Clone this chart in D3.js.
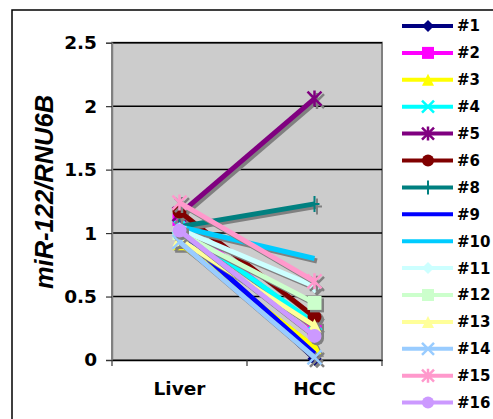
<!DOCTYPE html>
<html>
<head>
<meta charset="utf-8">
<script src="https://cdn.jsdelivr.net/npm/d3@7"></script>
<style>
  body { margin: 0; background: #fff; }
  svg { display: block; }
</style>
</head>
<body>
<div id="chart"></div>
<script>
'use strict';

var categories = ['Liver', 'HCC'];
var seriesNames = ['#1', '#2', '#3', '#4', '#5', '#6', '#8', '#9', '#10', '#11', '#12', '#13', '#14', '#15', '#16'];
var liverValues = [1.00, 1.10, 0.92, 1.05, 1.15, 1.17, 1.05, 1.00, 1.05, 1.03, 1.00, 0.95, 0.93, 1.24, 1.02];
var hccValues   = [0.01, 0.25, 0.10, 0.29, 2.06, 0.34, 1.23, 0.05, 0.80, 0.58, 0.45, 0.27, 0.02, 0.62, 0.19];
var seriesColors = ['#000080', '#ff00ff', '#ffff00', '#00ffff', '#800080', '#800000', '#008080',
                    '#0000ff', '#00ccff', '#ccffff', '#ccffcc', '#ffff99', '#99ccff', '#ff99cc', '#cc99ff'];
var seriesMarkers = ['diamond', 'square', 'triangle', 'x', 'star', 'circle', 'plus',
                     'none', 'none', 'diamond', 'square', 'triangle', 'x', 'star', 'circle'];
var yTicks = [0, 0.5, 1, 1.5, 2, 2.5];

var width = 493, height = 419;
var plot = { left: 112, right: 382, top: 42.7, bottom: 360 };

var svg = d3.select('#chart').append('svg')
    .attr('width', width)
    .attr('height', height);

// outer chart frame (cut off at right/bottom)
svg.append('path')
    .attr('d', 'M12,' + (height + 5) + 'L12,10L' + (width + 5) + ',10')
    .attr('fill', 'none')
    .attr('stroke', '#000')
    .attr('stroke-width', 1.5);

var x = d3.scaleBand().domain(categories).range([plot.left, plot.right]);
var y = d3.scaleLinear().domain([0, 2.5]).range([plot.bottom, plot.top]);

// plot area
svg.append('rect')
    .attr('x', plot.left)
    .attr('y', plot.top)
    .attr('width', plot.right - plot.left)
    .attr('height', plot.bottom - plot.top)
    .attr('fill', '#cccccc')
    .attr('stroke', '#808080')
    .attr('stroke-width', 2);

// gridlines
svg.selectAll('line.grid')
    .data(yTicks.filter(function (d) { return d > 0; }))
    .enter().append('line')
    .attr('class', 'grid')
    .attr('x1', plot.left).attr('x2', plot.right)
    .attr('y1', function (d) { return y(d); })
    .attr('y2', function (d) { return y(d); })
    .attr('stroke', '#000')
    .attr('stroke-width', 1.5);

// y axis
var yAxis = d3.axisLeft(y).tickValues(yTicks).tickSize(6).tickPadding(9)
    .tickFormat(function (d) { return String(d); });
var gy = svg.append('g')
    .attr('transform', 'translate(' + plot.left + ',0)')
    .call(yAxis);
gy.select('.domain').attr('stroke', '#808080').attr('stroke-width', 1.5);
gy.selectAll('.tick line').attr('stroke', '#333').attr('stroke-width', 1.2);
gy.selectAll('text')
    .attr('fill', '#000')
    .style('font-family', 'DejaVu Sans, Verdana, sans-serif')
    .style('font-weight', 'bold')
    .style('font-size', '18.5px');

// x axis
var xAxis = d3.axisBottom(x).tickSize(0).tickPadding(22);
var gx = svg.append('g')
    .attr('transform', 'translate(0,' + plot.bottom + ')')
    .call(xAxis);
gx.select('.domain').attr('stroke', '#000').attr('stroke-width', 1.5);
gx.selectAll('text')
    .attr('fill', '#000')
    .style('font-family', 'DejaVu Sans, Verdana, sans-serif')
    .style('font-weight', 'bold')
    .style('font-size', '18.5px');

// x tick marks at category boundaries
svg.selectAll('line.xtick')
    .data([plot.left, (plot.left + plot.right) / 2, plot.right])
    .enter().append('line')
    .attr('class', 'xtick')
    .attr('x1', function (d) { return d; })
    .attr('x2', function (d) { return d; })
    .attr('y1', plot.bottom)
    .attr('y2', plot.bottom + 6)
    .attr('stroke', '#333')
    .attr('stroke-width', 1.2);

// y axis title
svg.append('text')
    .attr('transform', 'translate(53,192) rotate(-90)')
    .attr('text-anchor', 'middle')
    .style('font-family', 'Liberation Sans, Arial, sans-serif')
    .style('font-weight', 'bold')
    .style('font-style', 'italic')
    .style('font-size', '25.5px')
    .text('miR-122/RNU6B');

// marker drawing
function drawMarker(g, type, color, size) {
  var s = size / 2;
  switch (type) {
    case 'diamond':
      g.append('path').attr('d', 'M0,' + (-s) + 'L' + s + ',0L0,' + s + 'L' + (-s) + ',0Z').attr('fill', color);
      break;
    case 'square':
      g.append('rect').attr('x', -s).attr('y', -s).attr('width', size).attr('height', size).attr('fill', color);
      break;
    case 'triangle':
      g.append('path').attr('d', 'M0,' + (-s) + 'L' + s + ',' + s + 'L' + (-s) + ',' + s + 'Z').attr('fill', color);
      break;
    case 'circle':
      g.append('circle').attr('r', s).attr('fill', color);
      break;
    case 'x':
      g.append('path').attr('d', 'M' + (-s) + ',' + (-s) + 'L' + s + ',' + s + 'M' + s + ',' + (-s) + 'L' + (-s) + ',' + s)
        .attr('stroke', color).attr('stroke-width', 2.5).attr('fill', 'none');
      break;
    case 'star':
      g.append('path').attr('d', 'M' + (-s) + ',' + (-s) + 'L' + s + ',' + s + 'M' + s + ',' + (-s) + 'L' + (-s) + ',' + s +
          'M0,' + (-s - 1) + 'L0,' + (s + 1))
        .attr('stroke', color).attr('stroke-width', 2.5).attr('fill', 'none');
      break;
    case 'plus':
      g.append('path').attr('d', 'M0,' + (-s - 1) + 'L0,' + (s + 1) + 'M' + (-s + 2) + ',0L' + (s - 2) + ',0')
        .attr('stroke', color).attr('stroke-width', 2).attr('fill', 'none');
      break;
  }
}

var data = seriesNames.map(function (name, i) {
  return {
    name: name,
    color: seriesColors[i],
    marker: seriesMarkers[i],
    values: [liverValues[i], hccValues[i]]
  };
});

var line = d3.line()
    .x(function (d, i) { return x(categories[i]) + x.bandwidth() / 2; })
    .y(function (d) { return y(d); });

var series = svg.append('g').attr('class', 'series');

data.forEach(function (d) {
  var g = series.append('g');
  // shadow
  g.append('path')
      .attr('d', line(d.values))
      .attr('transform', 'translate(2.5,2.5)')
      .attr('fill', 'none')
      .attr('stroke', '#808080')
      .attr('stroke-width', 5);
  d.values.forEach(function (v, i) {
    if (d.marker === 'none') return;
    var m = g.append('g')
        .attr('transform', 'translate(' + (x(categories[i]) + x.bandwidth() / 2 + 2.5) + ',' + (y(v) + 2.5) + ')');
    drawMarker(m, d.marker, '#808080', 14);
  });
  g.append('path')
      .attr('d', line(d.values))
      .attr('fill', 'none')
      .attr('stroke', d.color)
      .attr('stroke-width', 5);
  d.values.forEach(function (v, i) {
    if (d.marker === 'none') return;
    var m = g.append('g')
        .attr('transform', 'translate(' + (x(categories[i]) + x.bandwidth() / 2) + ',' + y(v) + ')');
    drawMarker(m, d.marker, d.color, 14);
  });
});

// legend
var legend = svg.append('g').attr('class', 'legend');
data.forEach(function (d, i) {
  var ly = 26 + i * 26.9;
  var g = legend.append('g').attr('transform', 'translate(0,' + ly + ')');
  g.append('line')
      .attr('x1', 402).attr('x2', 453)
      .attr('y1', 0).attr('y2', 0)
      .attr('stroke', d.color)
      .attr('stroke-width', 4);
  var m = g.append('g').attr('transform', 'translate(428,0)');
  drawMarker(m, d.marker, d.color, 12);
  g.append('text')
      .attr('x', 457)
      .attr('y', 0)
      .attr('dy', '0.36em')
      .style('font-family', 'DejaVu Sans, Verdana, sans-serif')
      .style('font-weight', 'bold')
      .style('font-size', '15px')
      .text(d.name);
});
</script>
</body>
</html>
